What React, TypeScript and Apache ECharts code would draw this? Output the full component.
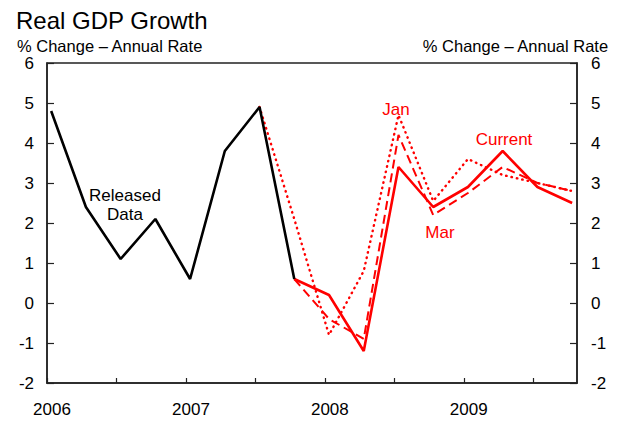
import React, { useEffect, useRef } from "react";
import * as echarts from "echarts";

const releasedQuarters = ["2006Q1", "2006Q2", "2006Q3", "2006Q4", "2007Q1", "2007Q2", "2007Q3", "2007Q4"];
const releasedValues = [4.8, 2.4, 1.1, 2.1, 0.6, 3.8, 4.9, 0.6];

const currentQuarters = ["2007Q4", "2008Q1", "2008Q2", "2008Q3", "2008Q4", "2009Q1", "2009Q2", "2009Q3", "2009Q4"];
const currentValues = [0.6, 0.2, -1.2, 3.4, 2.4, 2.9, 3.8, 2.9, 2.5];

const marQuarters = ["2007Q4", "2008Q1", "2008Q2", "2008Q3", "2008Q4", "2009Q1", "2009Q2", "2009Q3", "2009Q4"];
const marValues = [0.6, -0.4, -0.9, 4.2, 2.2, 2.75, 3.4, 3.0, 2.8];

const janQuarters = ["2007Q3", "2007Q4", "2008Q1", "2008Q2", "2008Q3", "2008Q4", "2009Q1", "2009Q2", "2009Q3", "2009Q4"];
const janValues = [4.9, 2.1, -0.8, 0.8, 4.7, 2.55, 3.6, 3.2, 3.0, 2.8];

const yearTicks = [2006, 2007, 2008, 2009];
const yTickLabels = ["-2", "-1", "0", "1", "2", "3", "4", "5", "6"];

const FONT = "'Liberation Sans', Arial, sans-serif";
const RED = "#ff0000";

function qToX(q: string): number {
  const y = parseInt(q.slice(0, 4), 10);
  const n = parseInt(q.slice(5), 10);
  return y + (n - 1) * 0.25 + 0.03;
}

function pairs(qs: string[], vs: number[]) {
  return qs.map((q, i) => [qToX(q), vs[i]]);
}

export default function App() {
  const ref = useRef<HTMLDivElement>(null);
  useEffect(() => {
    if (!ref.current) return;
    const chart = echarts.init(ref.current, null, { renderer: "svg" });
    const yLabel = (v: number) => {
      const s = String(Math.round(v));
      return yTickLabels.includes(s) ? s : "";
    };
    chart.setOption({
      animation: false,
      backgroundColor: "#ffffff",
      title: [
        {
          text: "Real GDP Growth",
          left: 11,
          top: 3,
          textStyle: { fontFamily: FONT, fontSize: 24, fontWeight: "normal", color: "#000" },
        },
        {
          text: "% Change – Annual Rate",
          left: 12,
          top: 32,
          textStyle: { fontFamily: FONT, fontSize: 16.5, fontWeight: "normal", color: "#000" },
        },
        {
          text: "% Change – Annual Rate",
          right: 13,
          top: 32,
          textStyle: { fontFamily: FONT, fontSize: 16.5, fontWeight: "normal", color: "#000" },
        },
      ],
      grid: {
        left: 47,
        right: 50,
        top: 63,
        bottom: 41,
        show: true,
        borderColor: "#222",
        borderWidth: 1.5,
        backgroundColor: "transparent",
      },
      xAxis: {
        type: "value",
        min: 2006,
        max: 2009.815,
        interval: 0.5,
        splitLine: { show: false },
        axisLine: { show: true, onZero: false, lineStyle: { color: "#222", width: 1.5 } },
        axisTick: { show: true, inside: true, length: 5, lineStyle: { color: "#222", width: 1.2 } },
        axisLabel: {
          showMaxLabel: false,
          fontFamily: FONT,
          fontSize: 17,
          color: "#000",
          margin: 18,
          padding: [0, 0, 0, 10],
          formatter: (v: number) => (yearTicks.includes(v) ? String(v) : ""),
        },
      },
      yAxis: [
        {
          type: "value",
          min: -2,
          max: 6,
          interval: 1,
          position: "left",
          splitLine: { show: false },
          axisLine: { show: true, onZero: false, lineStyle: { color: "#222", width: 1.5 } },
          axisTick: { show: true, inside: true, length: 7, lineStyle: { color: "#222", width: 1.2 } },
          axisLabel: { fontFamily: FONT, fontSize: 17, color: "#000", margin: 13, formatter: yLabel },
        },
        {
          type: "value",
          min: -2,
          max: 6,
          interval: 1,
          position: "right",
          splitLine: { show: false },
          axisLine: { show: true, onZero: false, lineStyle: { color: "#222", width: 1.5 } },
          axisTick: { show: true, inside: true, length: 7, lineStyle: { color: "#222", width: 1.2 } },
          axisLabel: { fontFamily: FONT, fontSize: 17, color: "#000", margin: 14, formatter: yLabel },
        },
      ],
      series: [
        {
          name: "Jan",
          type: "line",
          data: pairs(janQuarters, janValues),
          showSymbol: false,
          lineStyle: { color: RED, width: 2.4, type: [0.5, 5], cap: "round" },
          z: 2,
        },
        {
          name: "Mar",
          type: "line",
          data: pairs(marQuarters, marValues),
          showSymbol: false,
          lineStyle: { color: RED, width: 2, type: [9, 5] },
          z: 3,
        },
        {
          name: "Current",
          type: "line",
          data: pairs(currentQuarters, currentValues),
          showSymbol: false,
          lineStyle: { color: RED, width: 2.6 },
          z: 4,
        },
        {
          name: "Released Data",
          type: "line",
          data: pairs(releasedQuarters, releasedValues),
          showSymbol: false,
          lineStyle: { color: "#000", width: 2.6 },
          z: 5,
        },
      ],
      graphic: [
        {
          type: "text",
          x: 125,
          y: 205,
          style: {
            text: "Released\nData",
            fontFamily: FONT,
            fontSize: 17,
            lineHeight: 19,
            fill: "#000",
            align: "center",
            verticalAlign: "middle",
          },
        },
        {
          type: "text",
          x: 396,
          y: 109,
          style: { text: "Jan", fontFamily: FONT, fontSize: 17, fill: RED, align: "center", verticalAlign: "middle" },
        },
        {
          type: "text",
          x: 504,
          y: 139,
          style: { text: "Current", fontFamily: FONT, fontSize: 17, fill: RED, align: "center", verticalAlign: "middle" },
        },
        {
          type: "text",
          x: 440,
          y: 232,
          style: { text: "Mar", fontFamily: FONT, fontSize: 17, fill: RED, align: "center", verticalAlign: "middle" },
        },
      ],
    });
    return () => chart.dispose();
  }, []);
  return <div ref={ref} style={{ width: 627, height: 424, position: "absolute", left: 0, top: 0 }} />;
}
